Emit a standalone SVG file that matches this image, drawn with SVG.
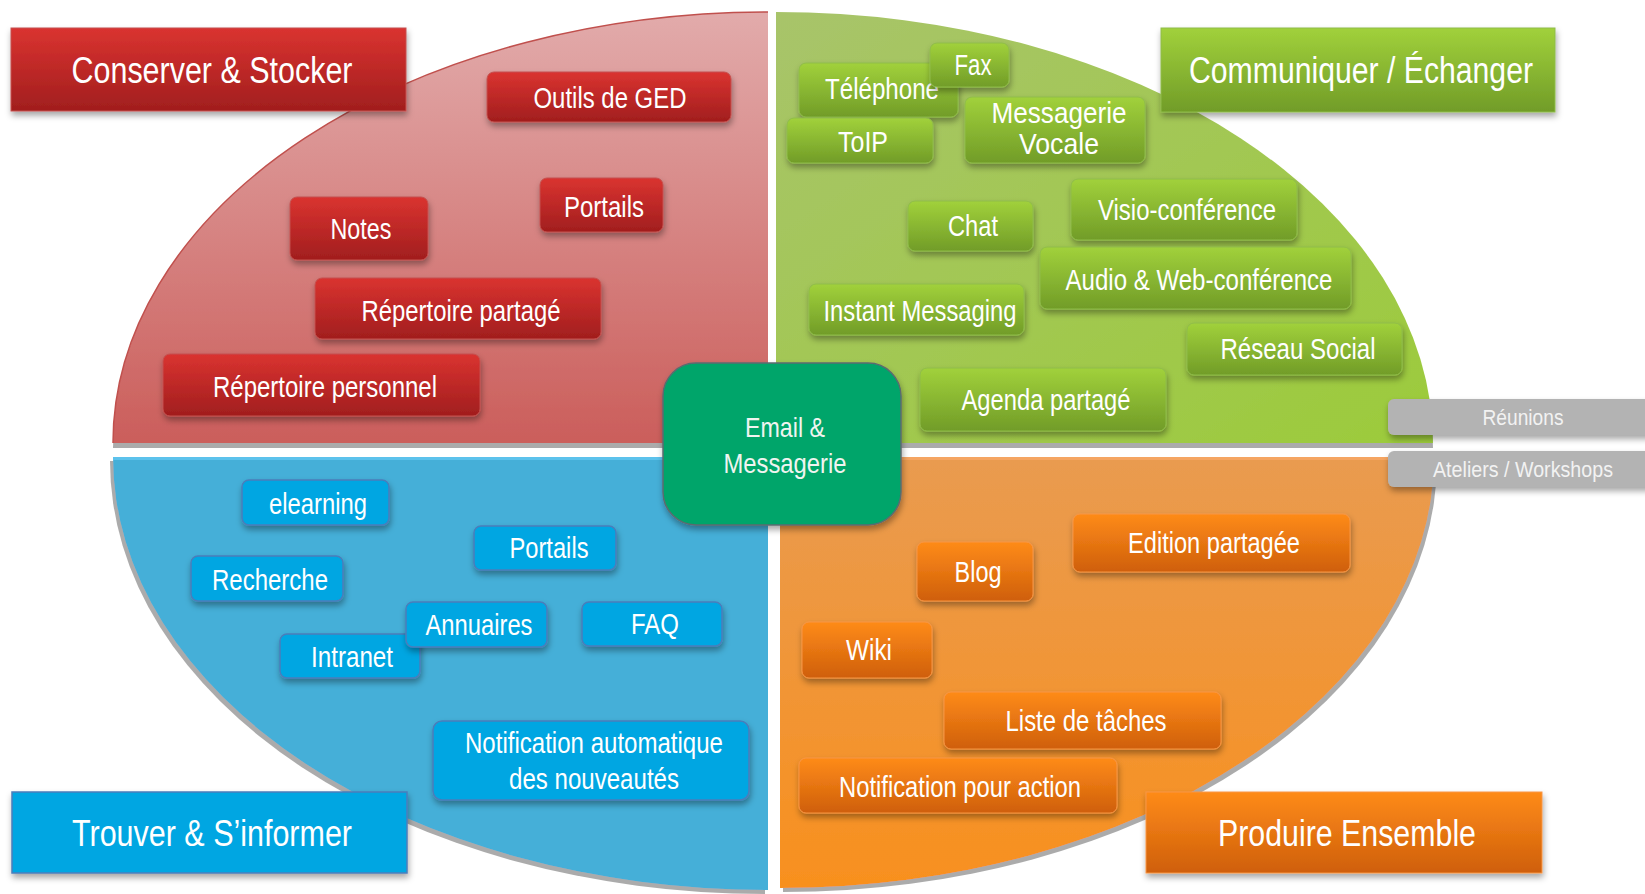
<svg xmlns="http://www.w3.org/2000/svg" width="1645" height="894" viewBox="0 0 1645 894">
<defs>
<style>
.t{font-family:"Liberation Sans Narrow","Liberation Sans",Arial,sans-serif;fill:#ffffff;text-anchor:middle;font-size:29px}
.tt{font-size:36px}
.tg{font-size:22px;fill:#f2f2f2}
.te{font-size:28px;fill:#f0f4f0}
.nr{fill:url(#gRed);stroke:#c4514e;stroke-width:1;filter:url(#sh)}
.ng{fill:url(#gGreen);stroke:#8fbc4a;stroke-width:1;filter:url(#sh)}
.nb{fill:#00a6e2;stroke:#4a7ebb;stroke-width:1.5;filter:url(#sh)}
.no{fill:url(#gOrange);stroke:#f79646;stroke-width:1;filter:url(#sh)}
.ny{fill:#b3b3b3;filter:url(#sh)}
</style>
<linearGradient id="gRed" x1="0" y1="0" x2="0" y2="1"><stop offset="0" stop-color="#da3330"/><stop offset="1" stop-color="#a11e1e"/></linearGradient>
<linearGradient id="gGreen" x1="0" y1="0" x2="0" y2="1"><stop offset="0" stop-color="#a1d13b"/><stop offset="1" stop-color="#719c28"/></linearGradient>
<linearGradient id="gOrange" x1="0" y1="0" x2="0" y2="1"><stop offset="0" stop-color="#fe8b18"/><stop offset="1" stop-color="#cf5f0b"/></linearGradient>
<linearGradient id="qRed" x1="0" y1="0" x2="0" y2="1"><stop offset="0" stop-color="#e2abab"/><stop offset="1" stop-color="#cb5e5b"/></linearGradient>
<linearGradient id="qGreen" x1="0" y1="0" x2="1" y2="1"><stop offset="0" stop-color="#a8c46a"/><stop offset="1" stop-color="#9ccb3b"/></linearGradient>
<linearGradient id="qOrange" x1="0" y1="0" x2="0" y2="1"><stop offset="0" stop-color="#e99b50"/><stop offset="1" stop-color="#f8901e"/></linearGradient>
<filter id="sh" x="-20%" y="-30%" width="140%" height="170%"><feDropShadow dx="1" dy="4" stdDeviation="3" flood-color="#000" flood-opacity="0.35"/></filter>
<filter id="qsD" x="-5%" y="-5%" width="110%" height="115%"><feDropShadow dx="0" dy="5" stdDeviation="0.6" flood-color="#ababab" flood-opacity="1"/></filter>
<filter id="qsL" x="-5%" y="-5%" width="110%" height="115%"><feDropShadow dx="-3" dy="4" stdDeviation="0.6" flood-color="#ababab" flood-opacity="1"/></filter>
<filter id="qsR" x="-5%" y="-5%" width="110%" height="115%"><feDropShadow dx="3" dy="4" stdDeviation="0.6" flood-color="#ababab" flood-opacity="1"/></filter>
</defs>
<rect width="1645" height="894" fill="#ffffff"/>

<g id="quadrants">
<path id="q-red" d="M768,443 L113,443 A655,431 0 0 1 768,12 Z" fill="url(#qRed)" filter="url(#qsD)"/>
<path d="M113,443 A655,431 0 0 1 768,12" fill="none" stroke="#c0504d" stroke-width="1.5"/>
<path id="q-green" d="M776,443 L776,12 A657,431 0 0 1 1433,443 Z" fill="url(#qGreen)" filter="url(#qsD)"/>
<path id="q-blue" d="M768,457 L113,457 A655,433 0 0 0 768,890 Z" fill="#45afd8" filter="url(#qsL)"/>
<line x1="113" y1="458.5" x2="768" y2="458.5" stroke="#5cc2ec" stroke-width="3"/>
<path id="q-orange" d="M780,457 L1434,457 A654,431 0 0 1 780,888 Z" fill="url(#qOrange)" filter="url(#qsR)"/>
<line x1="780" y1="458.5" x2="1434" y2="458.5" stroke="#f5a562" stroke-width="3"/>
</g>

<g id="connectors"></g>

<g id="title-conserver"><rect x="11" y="28" width="395" height="83" fill="url(#gRed)" stroke="#c4514e" filter="url(#sh)"/><text class="t tt" x="212" y="83" textLength="281" lengthAdjust="spacingAndGlyphs">Conserver &amp; Stocker</text></g>
<g id="title-communiquer"><rect x="1161" y="28" width="394" height="84" fill="url(#gGreen)" stroke="#8fbc4a" filter="url(#sh)"/><text class="t tt" x="1361" y="83" textLength="344" lengthAdjust="spacingAndGlyphs">Communiquer / Échanger</text></g>
<g id="title-trouver"><rect x="12" y="792" width="395" height="81" fill="#00a6e2" stroke="#4a7ebb" stroke-width="1.5" filter="url(#sh)"/><text class="t tt" x="212" y="846" textLength="280" lengthAdjust="spacingAndGlyphs">Trouver &amp; S’informer</text></g>
<g id="title-produire"><rect x="1146" y="792" width="396" height="81" fill="url(#gOrange)" stroke="#f79646" filter="url(#sh)"/><text class="t tt" x="1347" y="846" textLength="258" lengthAdjust="spacingAndGlyphs">Produire Ensemble</text></g>

<g id="n-outils-ged"><rect class="nr" x="487" y="72" width="244" height="50" rx="7"/><text class="t" x="610" y="108" textLength="153" lengthAdjust="spacingAndGlyphs">Outils de GED</text></g>
<g id="n-portails-red"><rect class="nr" x="540" y="178" width="123" height="54" rx="7"/><text class="t" x="604" y="217" textLength="80" lengthAdjust="spacingAndGlyphs">Portails</text></g>
<g id="n-notes"><rect class="nr" x="290" y="197" width="138" height="63" rx="7"/><text class="t" x="361" y="239" textLength="61" lengthAdjust="spacingAndGlyphs">Notes</text></g>
<g id="n-rep-partage"><rect class="nr" x="315" y="278" width="286" height="61" rx="7"/><text class="t" x="461" y="321" textLength="199" lengthAdjust="spacingAndGlyphs">Répertoire partagé</text></g>
<g id="n-rep-perso"><rect class="nr" x="163" y="354" width="317" height="62" rx="7"/><text class="t" x="325" y="397" textLength="224" lengthAdjust="spacingAndGlyphs">Répertoire personnel</text></g>

<g id="n-telephone"><rect class="ng" x="799" y="63" width="159" height="54" rx="7"/><text class="t" x="882" y="99" textLength="114" lengthAdjust="spacingAndGlyphs">Téléphone</text></g>
<g id="n-fax"><rect class="ng" x="930" y="43" width="79" height="44" rx="7"/><text class="t" x="973" y="75" textLength="37" lengthAdjust="spacingAndGlyphs">Fax</text></g>
<g id="n-toip"><rect class="ng" x="787" y="118" width="146" height="45" rx="7"/><text class="t" x="863" y="152" textLength="50" lengthAdjust="spacingAndGlyphs">ToIP</text></g>
<g id="n-messagerie-vocale"><rect class="ng" x="965" y="97" width="180" height="66" rx="7"/><text class="t" x="1059" y="123" textLength="135" lengthAdjust="spacingAndGlyphs">Messagerie</text><text class="t" x="1059" y="154" textLength="80" lengthAdjust="spacingAndGlyphs">Vocale</text></g>
<g id="n-chat"><rect class="ng" x="908" y="201" width="125" height="50" rx="7"/><text class="t" x="973" y="236" textLength="50" lengthAdjust="spacingAndGlyphs">Chat</text></g>
<g id="n-visio"><rect class="ng" x="1071" y="179" width="226" height="61" rx="7"/><text class="t" x="1187" y="220" textLength="178" lengthAdjust="spacingAndGlyphs">Visio-conférence</text></g>
<g id="n-audio-web"><rect class="ng" x="1040" y="247" width="311" height="62" rx="7"/><text class="t" x="1199" y="290" textLength="267" lengthAdjust="spacingAndGlyphs">Audio &amp; Web-conférence</text></g>
<g id="n-instant"><rect class="ng" x="809" y="284" width="215" height="51" rx="7"/><text class="t" x="920" y="321" textLength="193" lengthAdjust="spacingAndGlyphs">Instant Messaging</text></g>
<g id="n-reseau"><rect class="ng" x="1187" y="323" width="215" height="52" rx="7"/><text class="t" x="1298" y="359" textLength="155" lengthAdjust="spacingAndGlyphs">Réseau Social</text></g>
<g id="n-agenda"><rect class="ng" x="920" y="368" width="246" height="63" rx="7"/><text class="t" x="1046" y="410" textLength="169" lengthAdjust="spacingAndGlyphs">Agenda partagé</text></g>

<g id="n-elearning"><rect class="nb" x="242" y="480" width="147" height="45" rx="7"/><text class="t" x="318" y="514" textLength="98" lengthAdjust="spacingAndGlyphs">elearning</text></g>
<g id="n-portails-blue"><rect class="nb" x="474" y="526" width="142" height="44" rx="7"/><text class="t" x="549" y="558" textLength="79" lengthAdjust="spacingAndGlyphs">Portails</text></g>
<g id="n-recherche"><rect class="nb" x="191" y="556" width="152" height="45" rx="7"/><text class="t" x="270" y="590" textLength="116" lengthAdjust="spacingAndGlyphs">Recherche</text></g>
<g id="n-intranet"><rect class="nb" x="280" y="634" width="140" height="44" rx="7"/><text class="t" x="352" y="667" textLength="82" lengthAdjust="spacingAndGlyphs">Intranet</text></g>
<g id="n-annuaires"><rect class="nb" x="406" y="602" width="141" height="45" rx="7"/><text class="t" x="479" y="635" textLength="107" lengthAdjust="spacingAndGlyphs">Annuaires</text></g>
<g id="n-faq"><rect class="nb" x="582" y="602" width="140" height="44" rx="7"/><text class="t" x="655" y="634" textLength="48" lengthAdjust="spacingAndGlyphs">FAQ</text></g>
<g id="n-notif-auto"><rect class="nb" x="433" y="721" width="316" height="79" rx="9"/><text class="t" x="594" y="753" textLength="258" lengthAdjust="spacingAndGlyphs">Notification automatique</text><text class="t" x="594" y="789" textLength="170" lengthAdjust="spacingAndGlyphs">des nouveautés</text></g>

<g id="n-blog"><rect class="no" x="917" y="542" width="116" height="59" rx="7"/><text class="t" x="978" y="582" textLength="47" lengthAdjust="spacingAndGlyphs">Blog</text></g>
<g id="n-edition"><rect class="no" x="1073" y="514" width="277" height="58" rx="7"/><text class="t" x="1214" y="553" textLength="172" lengthAdjust="spacingAndGlyphs">Edition partagée</text></g>
<g id="n-wiki"><rect class="no" x="802" y="622" width="130" height="56" rx="7"/><text class="t" x="869" y="660" textLength="46" lengthAdjust="spacingAndGlyphs">Wiki</text></g>
<g id="n-liste"><rect class="no" x="944" y="692" width="277" height="57" rx="7"/><text class="t" x="1086" y="731" textLength="161" lengthAdjust="spacingAndGlyphs">Liste de tâches</text></g>
<g id="n-notif-action"><rect class="no" x="799" y="758" width="318" height="55" rx="7"/><text class="t" x="960" y="797" textLength="242" lengthAdjust="spacingAndGlyphs">Notification pour action</text></g>

<g id="n-reunions"><rect class="ny" x="1388" y="399" width="275" height="36" rx="6"/><text class="t tg" x="1523" y="425" textLength="81" lengthAdjust="spacingAndGlyphs">Réunions</text></g>
<g id="n-ateliers"><rect class="ny" x="1388" y="451" width="275" height="36" rx="6"/><text class="t tg" x="1523" y="477" textLength="180" lengthAdjust="spacingAndGlyphs">Ateliers / Workshops</text></g>

<g id="n-email"><rect x="663" y="363" width="238" height="162" rx="33" fill="#00a56b" stroke="#5c6b70" stroke-width="1.5" filter="url(#sh)"/><text class="t te" x="785" y="437" textLength="80" lengthAdjust="spacingAndGlyphs">Email &amp;</text><text class="t te" x="785" y="473" textLength="123" lengthAdjust="spacingAndGlyphs">Messagerie</text></g>
</svg>
